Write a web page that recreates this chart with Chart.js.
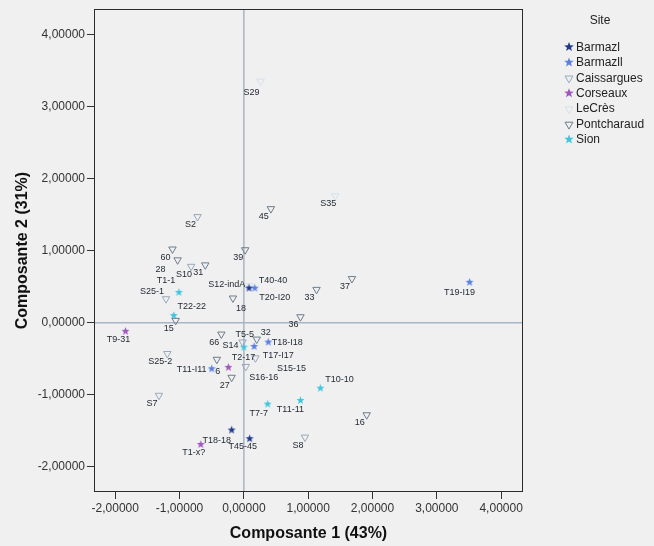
<!DOCTYPE html>
<html>
<head>
<meta charset="utf-8">
<script src="https://cdn.jsdelivr.net/npm/chart.js@4.4.1/dist/chart.umd.min.js"></script>
<style>
  html, body { margin: 0; padding: 0; background: #f0f0f0; }
  #wrap { width: 654px; height: 546px; }
</style>
</head>
<body>
<div id="wrap"><canvas id="pca" width="654" height="546"></canvas></div>
<script>
// ---- PCA scores per site (Composante 1, Composante 2) ----
const sites = ['Barmazl', 'Barmazll', 'Caissargues', 'Corseaux', 'LeCrès', 'Pontcharaud', 'Sion'];

const barmazlNames = ['T40-40', 'T18-18', 'T45-45'];
const barmazlX = [0.08, -0.19, 0.09];
const barmazlY = [0.48, -1.49, -1.61];

const barmazllNames = ['T20-I20', 'T19-I19', 'T18-I18', 'T17-I17', 'T11-I11'];
const barmazllX = [0.17, 3.51, 0.38, 0.16, -0.50];
const barmazllY = [0.48, 0.56, -0.27, -0.33, -0.64];

const caissarguesNames = ['S2', 'S10', 'S25-1', 'S14', 'S25-2', 'S16-16', 'S15-15', 'S7', 'S8'];
const caissarguesX = [-0.72, -0.82, -1.21, -0.02, -1.19, 0.03, 0.18, -1.32, 0.95];
const caissarguesY = [1.47, 0.78, 0.33, -0.27, -0.43, -0.61, -0.49, -1.01, -1.59];

const corseauxNames = ['T9-31', 'T2-17', 'T1-x?'];
const corseauxX = [-1.84, -0.24, -0.67];
const corseauxY = [-0.12, -0.62, -1.69];

const lecresNames = ['S29', 'S35', 'S12-indA'];
const lecresX = [0.26, 1.42, 0.09];
const lecresY = [3.35, 1.76, 0.51];

const pontcharaudNames = ['45', '39', '60', '28', '31', '18', '15', '37', '33', '36', '66', '32', '6', '27', '16'];
const pontcharaudX = [0.42, 0.02, -1.11, -1.03, -0.60, -0.17, -1.06, 1.68, 1.13, 0.88, -0.35, 0.20, -0.42, -0.19, 1.91];
const pontcharaudY = [1.58, 1.01, 1.02, 0.87, 0.80, 0.34, 0.03, 0.61, 0.46, 0.08, -0.16, -0.23, -0.51, -0.76, -1.28];

const sionNames = ['T1-1', 'T22-22', 'T5-5', 'T10-10', 'T7-7', 'T11-11'];
const sionX = [-1.01, -1.09, 0.00, 1.19, 0.37, 0.88];
const sionY = [0.42, 0.10, -0.34, -0.91, -1.13, -1.08];

const xTicks = [-2, -1, 0, 1, 2, 3, 4];
const yTicks = [-2, -1, 0, 1, 2, 3, 4];

// ---- styling ----
const FONT = 'Arial, "Liberation Sans", sans-serif';
const siteStyle = {
  'Barmazl':     { shape: 'star', color: '#1f3a8c' },
  'Barmazll':    { shape: 'star', color: '#5a7fe0' },
  'Caissargues': { shape: 'tri',  color: '#98a8bc' },
  'Corseaux':    { shape: 'star', color: '#a055c0' },
  'LeCrès':      { shape: 'tri',  color: '#d6e1ec' },
  'Pontcharaud': { shape: 'tri',  color: '#6e7c8c' },
  'Sion':        { shape: 'star', color: '#3ec6e0' }
};

// where each point's name sits relative to its marker (label centre, px)
const defaultLabelShift = [-7, 8];
const labelShift = {
  '28': [-17, 10], 'T1-1': [-13, -12], 'S25-1': [-14, -7], 'S12-indA': [-23, -1],
  'T40-40': [24, -8], 'T20-I20': [20, 9], '18': [8, 10], 'T22-22': [18, -9],
  'T19-I19': [-10, 10], 'T5-5': [1, -13], 'S14': [-12, 3], '32': [9, -7],
  'T18-I18': [19, 0], 'T17-I17': [24, 9], 'T2-17': [15, -10], 'T11-I11': [-20, 1],
  '6': [1, 12], 'S16-16': [18, 11], 'S15-15': [36, 11], 'T10-10': [19, -9],
  'T18-18': [-15, 10], 'T7-7': [-9, 9], 'T11-11': [-10, 9], 'S29': [-9, 11]
};

function starPath(ctx, cx, cy, R, r) {
  ctx.beginPath();
  for (let i = 0; i < 10; i++) {
    const a = -Math.PI / 2 + i * Math.PI / 5;
    const rad = i % 2 === 0 ? R : r;
    const px = cx + Math.cos(a) * rad, py = cy + Math.sin(a) * rad;
    if (i === 0) ctx.moveTo(px, py); else ctx.lineTo(px, py);
  }
  ctx.closePath();
}
function starImage(color, R) {
  const s = Math.ceil(R * 2 + 2);
  const cv = document.createElement('canvas');
  cv.width = s; cv.height = s;
  const g = cv.getContext('2d');
  starPath(g, s / 2, s / 2, R, R * 0.42);
  g.fillStyle = color;
  g.fill();
  return cv;
}
function triPath(ctx, cx, cy, r) {
  ctx.beginPath();
  ctx.moveTo(cx - r * 0.866, cy - r * 0.5);
  ctx.lineTo(cx + r * 0.866, cy - r * 0.5);
  ctx.lineTo(cx, cy + r);
  ctx.closePath();
}

const series = {
  'Barmazl':     [barmazlNames, barmazlX, barmazlY],
  'Barmazll':    [barmazllNames, barmazllX, barmazllY],
  'Caissargues': [caissarguesNames, caissarguesX, caissarguesY],
  'Corseaux':    [corseauxNames, corseauxX, corseauxY],
  'LeCrès':      [lecresNames, lecresX, lecresY],
  'Pontcharaud': [pontcharaudNames, pontcharaudX, pontcharaudY],
  'Sion':        [sionNames, sionX, sionY]
};

const datasets = sites.map(site => {
  const [names, xs, ys] = series[site];
  const st = siteStyle[site];
  const ds = {
    label: site,
    names: names,
    data: xs.map((x, i) => ({ x: x, y: ys[i] })),
    borderColor: st.color,
    backgroundColor: st.shape === 'tri' ? 'rgba(0,0,0,0)' : st.color
  };
  if (st.shape === 'star') {
    ds.pointStyle = starImage(st.color, 4.2);
    ds.pointRadius = 4;
  } else {
    ds.pointStyle = 'triangle';
    ds.rotation = 180;
    ds.pointRadius = 4.3;
    ds.borderWidth = 1;
  }
  return ds;
});

const fmt = v => Number(v).toFixed(5).replace('.', ',');

// ---- plugins ----
const backdrop = {
  id: 'backdrop',
  beforeDraw(chart) {
    const c = chart.ctx;
    c.save();
    c.fillStyle = '#f0f0f0';
    c.fillRect(0, 0, chart.width, chart.height);
    c.restore();
  }
};

const originLines = {
  id: 'originLines',
  beforeDatasetsDraw(chart) {
    const { ctx, chartArea: a, scales: { x, y } } = chart;
    const x0 = x.getPixelForValue(0), y0 = y.getPixelForValue(0);
    ctx.save();
    ctx.strokeStyle = '#a7b6c6';
    ctx.lineWidth = 1.5;
    ctx.beginPath();
    ctx.moveTo(x0, a.top); ctx.lineTo(x0, a.bottom);
    ctx.moveTo(a.left, y0); ctx.lineTo(a.right, y0);
    ctx.stroke();
    ctx.restore();
  }
};

const frame = {
  id: 'frame',
  afterDatasetsDraw(chart) {
    const { ctx, chartArea: a } = chart;
    ctx.save();
    ctx.strokeStyle = '#2b2b2b';
    ctx.lineWidth = 1;
    ctx.strokeRect(Math.round(a.left) + 0.5, Math.round(a.top) + 0.5,
                   Math.round(a.right - a.left) - 1, Math.round(a.bottom - a.top) - 1);
    ctx.restore();
  }
};

const pointNames = {
  id: 'pointNames',
  afterDatasetsDraw(chart) {
    const ctx = chart.ctx;
    ctx.save();
    ctx.font = '9px ' + FONT;
    ctx.fillStyle = '#1e2630';
    ctx.textAlign = 'center';
    ctx.textBaseline = 'middle';
    chart.data.datasets.forEach((ds, di) => {
      const meta = chart.getDatasetMeta(di);
      meta.data.forEach((el, i) => {
        const name = ds.names[i];
        const sh = labelShift[name] || defaultLabelShift;
        ctx.fillText(name, el.x + sh[0], el.y + sh[1]);
      });
    });
    ctx.restore();
  }
};

const siteLegend = {
  id: 'siteLegend',
  afterDraw(chart) {
    const ctx = chart.ctx;
    ctx.save();
    ctx.fillStyle = '#222';
    ctx.font = '12px ' + FONT;
    ctx.textAlign = 'center';
    ctx.textBaseline = 'middle';
    ctx.fillText('Site', 600, 21);
    ctx.textAlign = 'left';
    chart.data.datasets.forEach((ds, i) => {
      const st = siteStyle[ds.label];
      const cy = 47 + i * 15.4;
      const cx = 569;
      if (st.shape === 'star') {
        starPath(ctx, cx, cy, 5, 2.1);
        ctx.fillStyle = st.color;
        ctx.fill();
      } else {
        triPath(ctx, cx, cy + 0.5, 4.6);
        ctx.strokeStyle = st.color;
        ctx.lineWidth = 1;
        ctx.stroke();
      }
      ctx.fillStyle = '#222';
      ctx.fillText(ds.label, 576, cy + 0.5);
    });
    ctx.restore();
  }
};

function axis(pos, min, max, tickVals, title, boxSize) {
  return {
    type: 'linear',
    position: pos,
    min: min,
    max: max,
    afterBuildTicks(scale) { scale.ticks = tickVals.map(v => ({ value: v })); },
    afterFit(scale) {
      if (pos === 'left') scale.width = boxSize; else scale.height = boxSize;
    },
    grid: {
      display: true,
      drawOnChartArea: false,
      drawTicks: true,
      tickLength: 7,
      color: '#333',
      lineWidth: 1
    },
    border: { display: false },
    ticks: {
      autoSkip: false,
      maxRotation: 0,
      padding: 2,
      color: '#333',
      font: { family: FONT, size: 12 },
      callback: v => fmt(v)
    },
    title: {
      display: true,
      text: title,
      color: '#111',
      font: { family: FONT, size: 16, weight: 'bold' },
      padding: pos === 'left' ? { top: 13, bottom: 0 } : { top: 0, bottom: 3 }
    }
  };
}

new Chart(document.getElementById('pca'), {
  type: 'scatter',
  data: { datasets: datasets },
  options: {
    responsive: false,
    animation: false,
    events: [],
    layout: { padding: { top: 8, right: 131, left: 0, bottom: 0 } },
    plugins: { legend: { display: false }, tooltip: { enabled: false } },
    scales: {
      x: axis('bottom', -2.33, 4.34, xTicks, 'Composante 1 (43%)', 54),
      y: axis('left', -2.35, 4.35, yTicks, 'Composante 2 (31%)', 94)
    }
  },
  plugins: [backdrop, originLines, frame, pointNames, siteLegend]
});
</script>
</body>
</html>
